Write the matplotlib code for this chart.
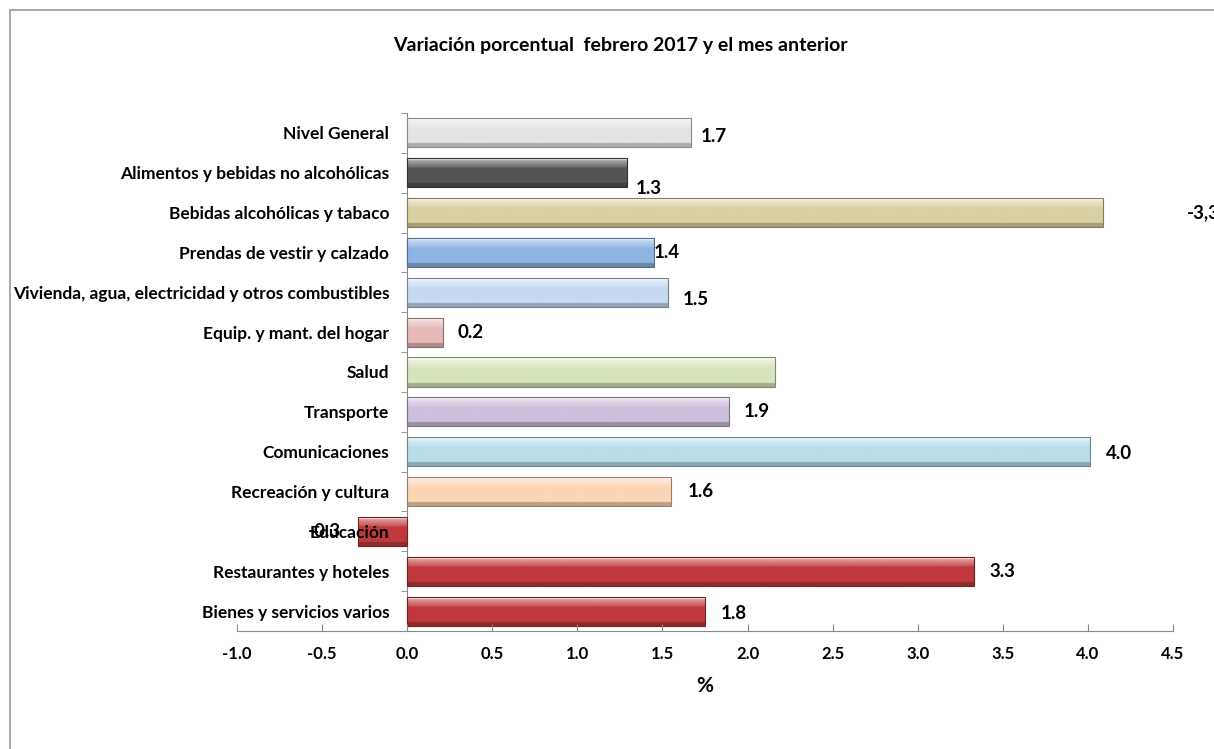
import matplotlib.pyplot as plt
import numpy as np
from matplotlib.colors import to_rgb
from matplotlib.lines import Line2D
from matplotlib.ticker import FixedLocator

plt.rcParams['font.family'] = ['Lato', 'DejaVu Sans']
plt.rcParams['font.weight'] = 'bold'

categories = ['Nivel General', 'Alimentos y bebidas no alcohólicas', 'Bebidas alcohólicas y tabaco',
              'Prendas de vestir y calzado', 'Vivienda, agua, electricidad y otros combustibles',
              'Equip. y mant. del hogar', 'Salud', 'Transporte', 'Comunicaciones',
              'Recreación y cultura', 'Educación', 'Restaurantes y hoteles', 'Bienes y servicios varios']
values = [1.67, 1.29, 4.09, 1.45, 1.53, 0.21, 2.16, 1.89, 4.01, 1.55, -0.29, 3.33, 1.75]
value_labels = ['1.7', '1.3', '-3,3', '1.4', '1.5', '0.2', '', '1.9', '4.0', '1.6', '-0.3', '3.3', '1.8']
bar_colors = ['#e4e4e4', '#555555', '#d8d0a0', '#8db4e2', '#c6d9f1', '#e6b9b8', '#d7e4bc',
              '#ccc0da', '#b7dee8', '#fcd5b4', '#c0393b', '#c0393b', '#c0393b']
xticks = [-1.0, -0.5, 0.0, 0.5, 1.0, 1.5, 2.0, 2.5, 3.0, 3.5, 4.0, 4.5]

# label offsets in pixels (dx, dy down)
label_dx = [9, 9, 84, 0, 15, 15, 0, 15, 16, 17, -17, 16, 16]
label_dy = [4, 16, 0, 0, 7, 0, 0, 0, 2, 0, 0, 0, 2]

fig = plt.figure(figsize=(12.14, 7.49), dpi=100)
ax = fig.add_axes([237 / 1214, 118 / 749, 936 / 1214, 518 / 749])
ax.set_axisbelow(False)

y = np.arange(len(categories))
h = 0.73
bars = ax.barh(y, values, height=h, color=bar_colors, zorder=2)

# bevel-ish gradient on each bar
for b, c in zip(bars, bar_colors):
    base = np.array(to_rgb(c))
    t = np.linspace(0, 1, 60)
    rows = []
    for v in t:
        if v < 0.1:
            col = base + (1 - base) * 0.8
        elif v < 0.35:
            col = base + (1 - base) * (0.5 - (v - 0.1) * 1.6)
        elif v < 0.88:
            col = base
        else:
            col = base * 0.75
        rows.append(np.clip(col, 0, 1))
    grad = np.array(rows)[:, None, :]
    x0, y0 = b.get_x(), b.get_y()
    x1, y1 = x0 + b.get_width(), y0 + b.get_height()
    im = ax.imshow(grad, extent=[min(x0, x1), max(x0, x1), y1, y0], origin='upper',
                   aspect='auto', zorder=2.1, interpolation='bilinear')
    im.set_clip_path(b)
    b.set_edgecolor(tuple(base * 0.6))
    b.set_linewidth(0.8)
    b.set_zorder(2.2)
    b.set_facecolor('none')

ax.set_xlim(-1.0, 4.5)
ax.set_ylim(len(categories) - 0.5, -0.5)

ax.spines['top'].set_visible(False)
ax.spines['right'].set_visible(False)
ax.spines['left'].set_position(('data', 0))
ax.spines['left'].set_color('#888888')
ax.spines['bottom'].set_color('#888888')
ax.spines['left'].set_zorder(1.5)

ax.set_yticks(y)
ax.set_yticklabels(categories, fontsize=12.5, fontweight='bold')
ax.yaxis.set_minor_locator(FixedLocator(np.arange(-0.5, len(categories), 1)))
ax.tick_params(axis='y', which='major', length=0, pad=13)
ax.tick_params(axis='y', which='minor', length=4, color='#888888')

ax.set_xticks(xticks)
ax.set_xticklabels([f'{v:.1f}' for v in xticks], fontsize=12, fontweight='bold')
ax.tick_params(axis='x', length=5, direction='in', color='#888888', pad=11)
ax.set_xlabel('%', fontsize=15, fontweight='bold', labelpad=10)

for yi, v, lab, dx, dy in zip(y, values, value_labels, label_dx, label_dy):
    if not lab:
        continue
    ax.annotate(lab, xy=(v, yi), xytext=(dx * 0.72, -dy * 0.72), textcoords='offset points',
                ha='left' if dx >= 0 else 'right', va='center', fontsize=13.5,
                fontweight='bold', annotation_clip=False, zorder=5)

fig.text(620 / 1214, 1 - 45 / 749, 'Variación porcentual  febrero 2017 y el mes anterior',
         ha='center', va='center', fontsize=14, fontweight='bold')

# chart frame
fig.add_artist(Line2D([10 / 1214, 10 / 1214], [0, 1 - 10 / 749], color='#999999', lw=1.2))
fig.add_artist(Line2D([10 / 1214, 1], [1 - 10 / 749, 1 - 10 / 749], color='#999999', lw=1.2))

fig.savefig('out.png', dpi=100)
